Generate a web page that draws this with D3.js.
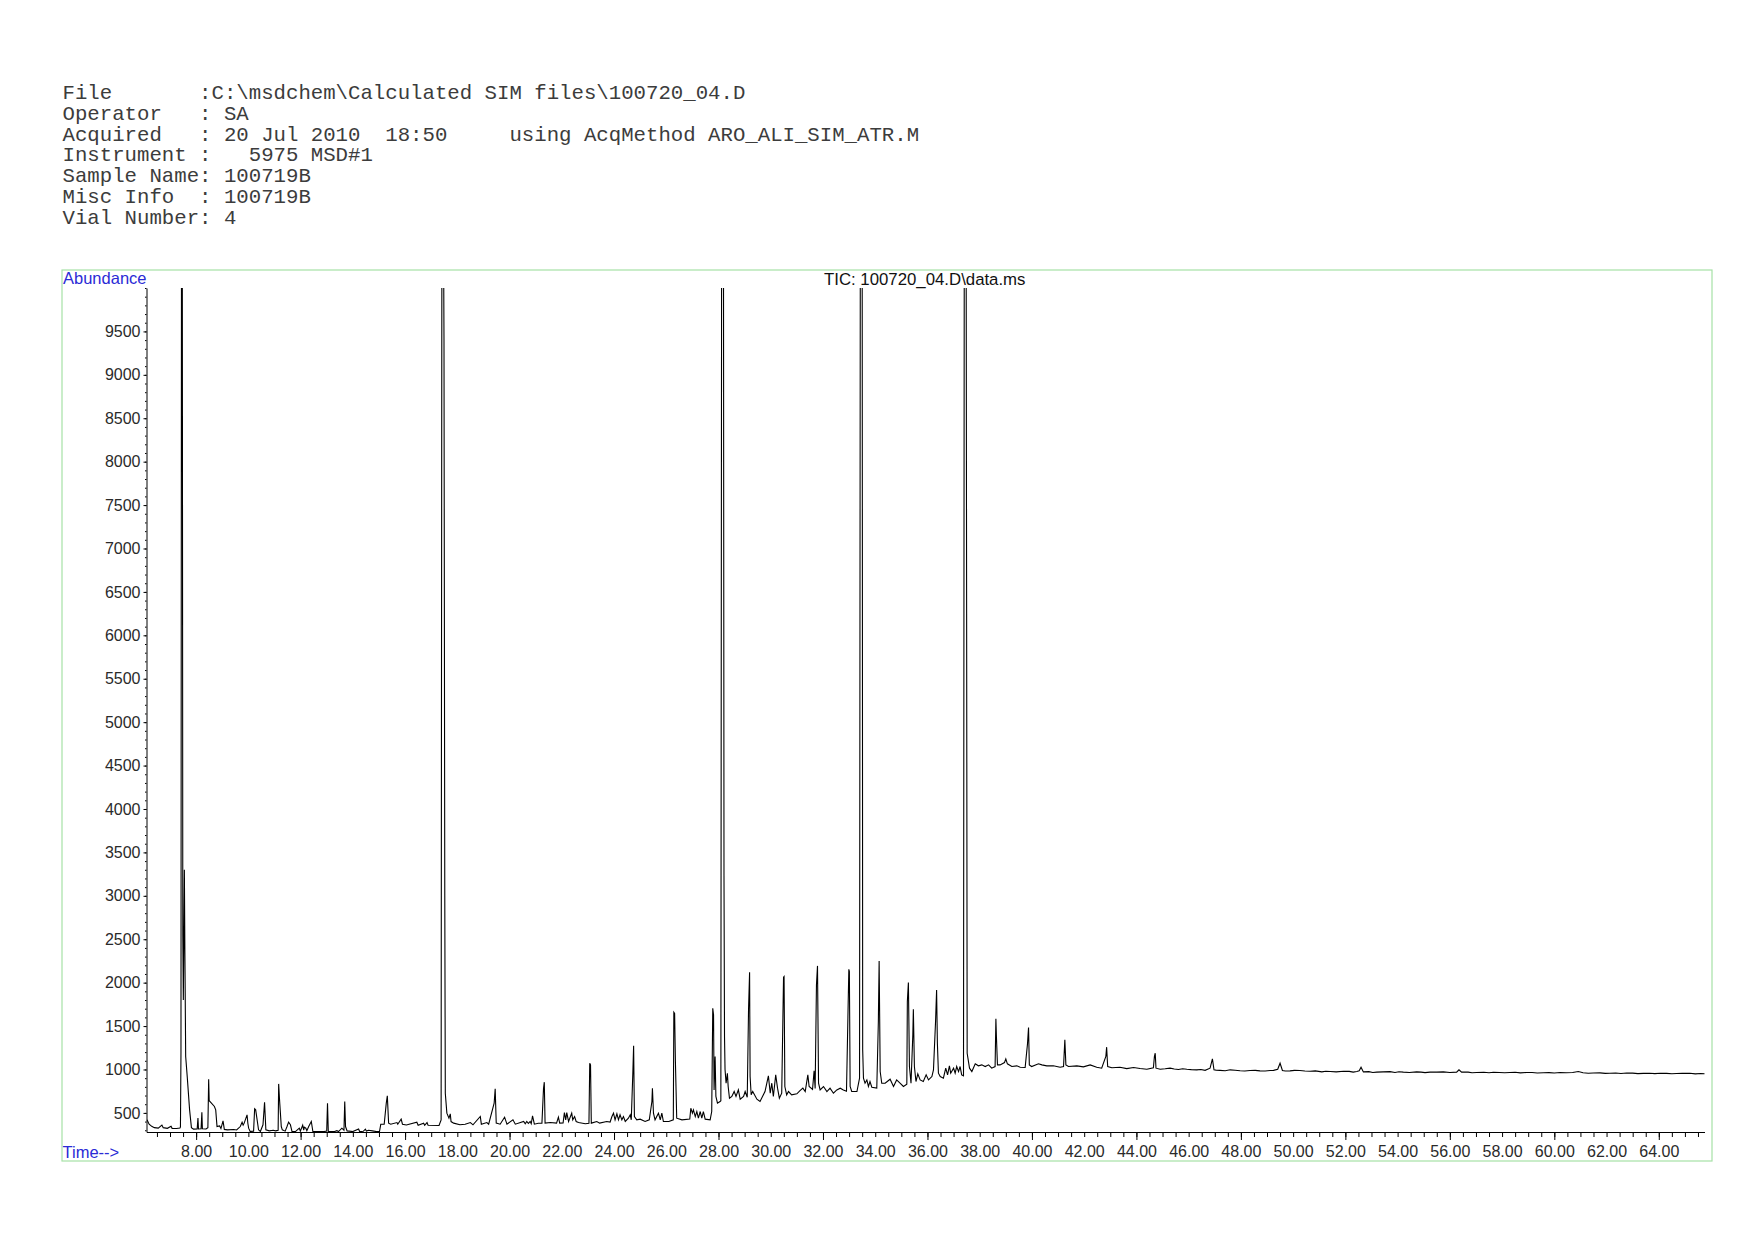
<!DOCTYPE html>
<html>
<head>
    <meta charset="UTF-8">
    <title>TIC: 100720_04.D\data.ms</title>
    <style>
        body { margin: 0; background: #fff; }
        .hdr { font-family: 'Liberation Mono', 'DejaVu Sans Mono', monospace; font-size: 20.7px; fill: #3c3c3c; white-space: pre; }
        .lbl { font-family: 'Liberation Sans', Arial, sans-serif; font-size: 16.5px; }
        .axis text { font-family: 'Liberation Sans', Arial, sans-serif; font-size: 16px; fill: #2a2a2a; }
        .axis path, .axis line { stroke: #000; }
    </style>
</head>
<body>
    <div id="app"></div>

    <script src="https://d3js.org/d3.v7.min.js"></script>
    <script>
        // header block of the ChemStation report
        let headerLines = [
            'File       :C:\\msdchem\\Calculated SIM files\\100720_04.D',
            'Operator   : SA',
            'Acquired   : 20 Jul 2010  18:50     using AcqMethod ARO_ALI_SIM_ATR.M',
            'Instrument :   5975 MSD#1',
            'Sample Name: 100719B',
            'Misc Info  : 100719B',
            'Vial Number: 4'
        ]
        let title = 'TIC: 100720_04.D\\data.ms'

        // [retention time (min), abundance]; peaks above 10000 run off scale
        let trace6to17 = [
            [6.12,420],[6.20,370],[6.30,345],[6.40,330],[6.55,325],[6.69,360],[6.74,330],[6.90,322],[7.04,345],[7.08,322],[7.25,320],[7.38,325],
            [7.40,340],[7.42,1200],[7.44,10800],[7.47,10800],[7.49,2550],[7.51,1800],[7.55,3300],[7.57,2340],[7.60,1150],[7.66,915],[7.75,535],[7.82,330],
            [7.90,313],[8.04,315],[8.07,440],[8.09,315],[8.19,318],[8.22,508],[8.24,318],[8.38,315],[8.45,330],[8.48,888],[8.50,640],[8.56,620],[8.70,574],
            [8.75,535],[8.80,343],[8.90,350],[8.95,320],[9.03,408],[9.08,310],[9.20,305],[9.44,308],[9.55,303],[9.69,343],[9.76,393],[9.80,360],[9.84,382],
            [9.95,478],[9.98,381],[10.01,324],[10.07,286],[10.20,290],[10.24,547],[10.28,535],[10.39,305],[10.46,286],[10.56,363],[10.62,623],[10.67,305],
            [10.80,293],[10.95,300],[11.05,293],[11.14,300],[11.16,834],[11.19,669],[11.26,343],[11.30,305],[11.41,290],[11.48,343],[11.54,393],[11.61,363],
            [11.67,286],[11.80,285],[11.95,324],[11.99,290],[12.08,358],[12.12,300],[12.14,336],[12.20,324],[12.24,295],[12.31,343],[12.41,401],[12.47,286],
            [12.60,285],[12.90,285],[13.00,290],[13.03,612],[13.06,286],[13.30,285],[13.39,295],[13.45,285],[13.58,324],[13.66,300],[13.69,631],[13.72,343],
            [13.78,293],[14.00,285],[14.22,315],[14.26,285],[14.40,288],[14.48,313],[14.52,290],[14.60,300],[14.75,293],[14.90,285],[15.02,285],[15.07,370],
            [15.20,370],[15.28,612],[15.32,696],[15.37,382],[15.45,370],[15.69,389],[15.72,370],[15.85,428],[15.90,370],[16.05,360],[16.45,393],[16.50,358],
            [16.71,382],[16.75,357],[16.84,389],[16.88,357],[17.30,355]
        ]
        let trace17to28 = [
            [17.38,420],[17.41,10800],[17.47,10800],[17.49,9400],[17.52,3000],[17.54,727],[17.60,497],[17.68,440],[17.73,489],[17.76,400],[17.86,382],
            [18.10,363],[18.30,370],[18.50,389],[18.60,363],[18.88,459],[18.92,370],[19.13,389],[19.20,370],[19.41,612],[19.45,777],[19.49,382],[19.64,370],
            [19.81,451],[19.90,370],[20.13,420],[20.22,370],[20.54,401],[20.60,375],[20.66,401],[20.72,378],[20.79,401],[20.83,375],[20.88,466],[20.95,370],
            [21.10,380],[21.24,382],[21.30,780],[21.33,854],[21.36,382],[21.56,389],[21.80,382],[21.87,451],[21.92,382],[22.05,385],[22.10,504],[22.15,420],
            [22.19,504],[22.26,401],[22.38,497],[22.42,420],[22.49,458],[22.55,401],[22.64,389],[22.90,375],[23.04,380],[23.07,1072],[23.10,1053],[23.13,382],
            [23.34,401],[23.45,382],[23.72,401],[23.85,395],[23.92,458],[23.98,497],[24.04,420],[24.11,489],[24.17,420],[24.23,478],[24.30,420],[24.36,458],
            [24.43,401],[24.55,439],[24.62,478],[24.66,420],[24.72,960],[24.75,1272],[24.78,458],[24.87,420],[25.00,428],[25.19,401],[25.35,420],[25.45,631],
            [25.47,785],[25.51,497],[25.57,420],[25.70,497],[25.77,420],[25.83,497],[25.89,401],[26.10,401],[26.27,420],[26.29,1659],[26.32,1645],[26.35,1092],
            [26.40,439],[26.60,420],[26.90,430],[26.94,554],[27.00,497],[27.04,535],[27.11,458],[27.17,516],[27.23,439],[27.30,516],[27.36,439],[27.42,516],
            [27.49,428],[27.68,420],[27.74,516],[27.78,1705],[27.81,1629],[27.83,765],[27.87,1149],[27.90,689],[27.96,612],[28.06,631]
        ]
        let trace28to37 = [
            [28.09,640],[28.12,10800],[28.19,10800],[28.21,3230],[28.23,1379],[28.25,1000],[28.29,842],[28.34,957],[28.37,804],[28.42,669],[28.51,689],
            [28.60,746],[28.67,689],[28.76,765],[28.83,658],[28.96,689],[29.02,746],[29.10,680],[29.15,1694],[29.19,2120],[29.21,919],[29.25,708],[29.31,746],
            [29.47,658],[29.59,631],[29.78,746],[29.85,842],[29.91,927],[29.98,727],[30.04,842],[30.10,689],[30.19,938],[30.26,785],[30.33,669],[30.42,727],
            [30.49,2062],[30.51,2070],[30.54,804],[30.61,708],[30.68,746],[30.80,708],[31.00,720],[31.12,757],[31.23,785],[31.32,746],[31.42,938],[31.47,804],
            [31.60,770],[31.66,984],[31.70,780],[31.75,1974],[31.79,2193],[31.83,842],[31.89,765],[32.02,804],[32.15,746],[32.27,785],[32.40,727],[32.53,765],
            [32.66,785],[32.78,765],[32.90,750],[32.99,2154],[33.01,2127],[33.04,804],[33.10,746],[33.30,746],[33.40,900],[33.43,10800],[33.50,10800],
            [33.52,1226],[33.55,900],[33.61,842],[33.68,880],[33.74,804],[33.80,861],[33.87,796],[34.06,785],[34.12,1552],[34.15,2250],[34.19,976],[34.25,842],
            [34.38,842],[34.57,888],[34.70,804],[34.82,880],[34.95,842],[35.08,804],[35.21,830],[35.23,1782],[35.27,2001],[35.31,1034],[35.37,842],[35.44,1400],
            [35.46,1694],[35.50,1034],[35.56,861],[35.63,950],[35.72,880],[35.84,861],[35.95,938],[36.04,880],[36.17,919],[36.23,996],[36.31,1552],[36.35,1916],
            [36.38,1303],[36.42,957],[36.49,919],[36.61,900],[36.70,1015],[36.77,938],[36.84,1042],[36.89,957],[37.00,1015],[37.06,957],[37.12,1034],
            [37.19,976],[37.25,1034],[37.31,938],[37.38,927]
        ]
        let trace37to66 = [
            [37.41,10800],[37.48,10800],[37.50,6255],[37.52,1187],[37.61,1015],[37.70,976],[37.83,1065],[37.95,1042],[38.08,1053],[38.21,1034],[38.34,1053],
            [38.46,1015],[38.59,1034],[38.62,1583],[38.64,1379],[38.68,1053],[38.78,1053],[38.95,1080],[39.00,1122],[39.06,1065],[39.23,1034],[39.42,1042],
            [39.55,1026],[39.74,1023],[39.83,1295],[39.87,1483],[39.90,1053],[39.99,1034],[40.25,1065],[40.38,1053],[40.57,1042],[40.82,1042],[41.08,1026],
            [41.21,1034],[41.26,1341],[41.30,1053],[41.40,1034],[41.72,1042],[41.97,1030],[42.23,1053],[42.48,1026],[42.67,1015],[42.83,1150],[42.86,1257],
            [42.90,1034],[43.06,1020],[43.37,1026],[43.63,1010],[43.89,1023],[44.14,1012],[44.40,1003],[44.65,1020],[44.69,1150],[44.72,1187],[44.75,1015],
            [44.91,1003],[45.29,1015],[45.61,1000],[45.93,1003],[46.31,996],[46.63,990],[46.82,1015],[46.91,1122],[46.97,996],[47.20,990],[47.59,996],
            [47.97,985],[48.35,988],[48.73,984],[49.12,988],[49.41,1003],[49.50,1072],[49.59,988],[49.88,984],[50.26,988],[50.65,980],[51.42,976],[51.93,980],
            [52.44,976],[52.53,984],[52.60,1026],[52.69,972],[53.20,969],[53.71,975],[54.22,969],[54.73,972],[55.24,969],[55.75,972],[56.26,969],[56.35,996],
            [56.45,969],[57.03,965],[57.67,968],[58.30,965],[58.94,965],[59.58,962],[60.22,965],[60.92,976],[61.49,960],[62.13,957],[62.77,960],[63.41,955],
            [64.05,957],[64.68,953],[65.19,957],[65.77,950]
        ]
        // small baseline wiggles of the late, flat part of the run
        let noise45to66 = [
            [45.10,1008],[45.45,1006],[45.77,1009],[46.10,998],[46.47,1000],[47.05,993],[47.40,986],[47.78,992],[48.15,983],[48.55,990],[48.93,982],
            [49.25,990],[49.70,982],[50.05,990],[50.45,982],[50.85,984],[51.10,972],[51.25,980],[51.65,972],[52.15,978],[52.30,970],[52.90,975],
            [53.05,966],[53.45,972],[53.90,966],[54.05,973],[54.45,966],[54.90,970],[55.05,964],[55.50,970],[56.00,965],[56.70,970],[56.85,963],
            [57.30,968],[57.50,962],[57.90,966],[58.10,962],[58.50,968],[58.70,961],[59.15,966],[59.35,960],[59.80,964],[60.00,960],[60.45,962],
            [60.70,966],[61.10,962],[61.30,956],[61.75,961],[61.95,955],[62.35,960],[62.55,954],[63.00,958],[63.20,952],[63.65,957],[63.85,952],
            [64.30,955],[64.50,950],[64.90,955],[65.40,950],[65.60,954]
        ]

        let xLabels = d3.range(8, 65, 2)          // 8.00 ... 64.00
        let yLabels = d3.range(500, 10000, 500)   // 500 ... 9500

        let W = 1754
        let H = 1240

        let svg = d3.select('#app').append('svg')
        .attr('width', W)
        .attr('height', H)

        // header text
        svg.selectAll('text.hdr')
        .data(headerLines).enter()
        .append('text')
        .attr('class', 'hdr')
        .attr('xml:space', 'preserve')
        .attr('x', 62.5)
        .attr('y', (d, i) => 99 + i * 20.8)
        .text(d => d)

        // light green frame
        svg.append('rect')
        .attr('x', 62)
        .attr('y', 270)
        .attr('width', 1650)
        .attr('height', 891)
        .attr('fill', 'none')
        .attr('stroke', '#a6e2a6')
        .attr('stroke-width', 1.2)

        let x = d3.scaleLinear().domain([6.1, 65.75]).range([146.5, 1704.5])
        let y = d3.scaleLinear().domain([280, 10000]).range([1132, 288])

        // x axis: minor ticks every 0.5 min, longer every 4 min
        svg.append('g')
        .attr('class', 'axis')
        .attr('transform', 'translate(0,1132)')
        .call(d3.axisBottom(x).tickValues(d3.range(6.5, 65.6, 0.5)).tickSize(5).tickSizeOuter(0).tickFormat(''))

        svg.append('g')
        .attr('class', 'axis')
        .attr('transform', 'translate(0,1132)')
        .call(d3.axisBottom(x).tickValues(d3.range(8, 65, 4)).tickSize(8).tickSizeOuter(0).tickFormat(''))
        .call(g => g.select('.domain').remove())

        svg.append('g')
        .attr('class', 'axis')
        .attr('transform', 'translate(0,1132)')
        .call(d3.axisBottom(x).tickValues(xLabels).tickSize(0).tickPadding(14).tickFormat(d3.format('.2f')))
        .call(g => g.select('.domain').remove())

        // y axis: minor ticks every 100, labels every 500
        svg.append('g')
        .attr('class', 'axis')
        .attr('transform', 'translate(146.5,0)')
        .call(d3.axisLeft(y).tickValues(d3.range(300, 10001, 100)).tickSize(1.5).tickSizeOuter(0).tickFormat(''))

        svg.append('g')
        .attr('class', 'axis')
        .attr('transform', 'translate(146.5,0)')
        .call(d3.axisLeft(y).tickValues(yLabels).tickSize(3).tickPadding(3).tickFormat(d3.format('d')))
        .call(g => g.select('.domain').remove())

        // labels
        svg.append('text').attr('class', 'lbl').attr('x', 63).attr('y', 284)
        .attr('fill', '#2b2bd6').text('Abundance')
        svg.append('text').attr('class', 'lbl').attr('x', 62.5).attr('y', 1157.5)
        .attr('fill', '#2b2bd6').text('Time-->')
        svg.append('text').attr('class', 'lbl').attr('x', 824).attr('y', 285)
        .attr('fill', '#111').style('font-size', '16.8px').text(title)

        // chromatogram trace
        svg.append('clipPath').attr('id', 'plot')
        .append('rect')
        .attr('x', 146.5).attr('y', 288).attr('width', 1558).attr('height', 844)

        let trace = trace6to17.concat(trace17to28, trace28to37, trace37to66, noise45to66)
        .sort((a, b) => a[0] - b[0])

        let line = d3.line()
        .x(d => x(d[0]))
        .y(d => y(d[1]))

        svg.append('path')
        .datum(trace)
        .attr('clip-path', 'url(#plot)')
        .attr('d', line)
        .attr('fill', 'none')
        .attr('stroke', '#000')
        .attr('stroke-width', 1.1)
    </script>
</body>
</html>
